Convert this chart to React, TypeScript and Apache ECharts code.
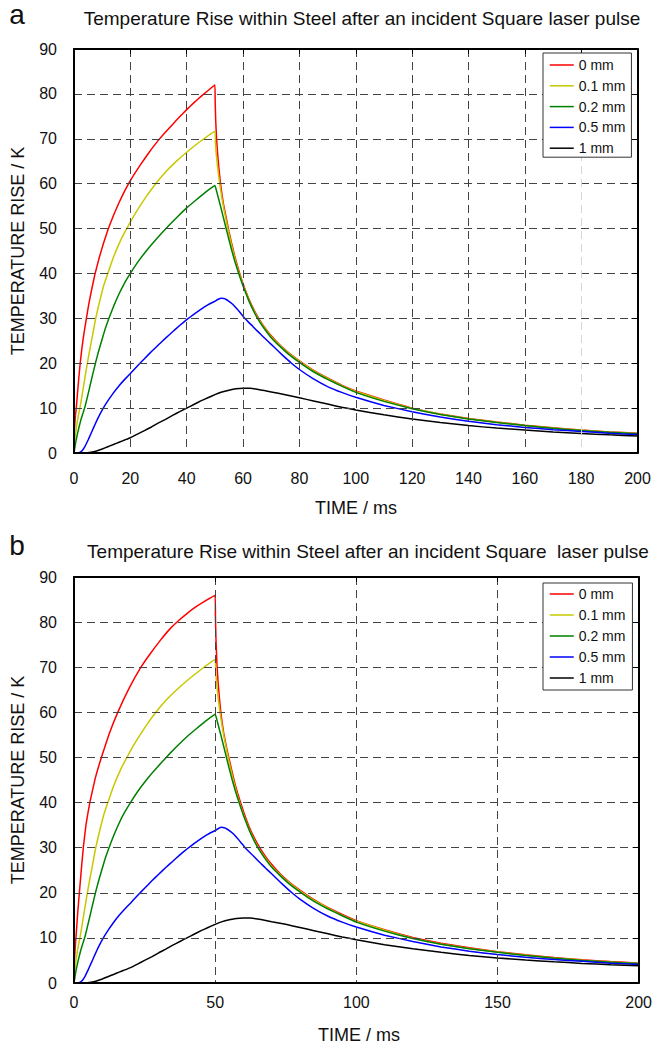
import React, { useEffect, useRef } from 'react';
import * as echarts from 'echarts';

const seriesNames = ['0 mm', '0.1 mm', '0.2 mm', '0.5 mm', '1 mm'];
const seriesColors = ['#ff0000', '#c8c800', '#008000', '#0000ff', '#000000'];

const yMin = 0;
const yMax = 90;
const yInterval = 10;
const xMin = 0;
const xMax = 200;
const xIntervalA = 20;
const xIntervalB = 50;

const titleA = 'Temperature Rise within Steel after an incident Square laser pulse';
const titleB = 'Temperature Rise within Steel after an incident Square  laser pulse';
const xName = 'TIME / ms';
const yName = 'TEMPERATURE RISE / K';

// [time ms, temperature rise K]
const redA = [
  [0, 0], [0.1, 3.5], [0.25, 6], [0.5, 8.3], [0.8, 10], [1.2, 13], [1.7, 16.7], [2.2, 20],
  [2.8, 23.3], [3.5, 26.5], [4.4, 30], [5.2, 33], [6.2, 36.2], [7.5, 40], [9, 43.6], [10.5, 46.8],
  [12.2, 50], [14, 52.9], [16, 55.8], [18, 58.4], [20, 60.7], [22.5, 63.2], [25, 65.5], [27.5, 67.7],
  [30, 69.7], [32.5, 71.5], [35, 73.2], [37.5, 74.9], [40, 76.5], [42.5, 78], [45, 79.4], [47.5, 80.7],
  [50, 82], [50.1, 78.5], [50.3, 74], [50.6, 70], [51, 66.5], [51.5, 63], [52, 60], [52.5, 57.7],
  [53, 55.6], [54, 52.5], [55, 49.3], [56, 46.6], [57, 44], [58, 41.7], [59, 39.6], [60, 37.7],
  [62, 34.4], [64, 31.7], [66, 29.5], [68, 27.7], [70, 26.1], [73, 24.1], [76, 22.4], [80, 20.5],
  [85, 18.4], [90, 16.7], [95, 15.1], [100, 13.8], [110, 11.8], [120, 10], [130, 8.7], [140, 7.7],
  [150, 6.9], [160, 6.2], [170, 5.6], [180, 5.1], [190, 4.7], [200, 4.4],
];
const redB = [
  [0, 0], [0.05, 2.5], [0.2, 5.5], [0.45, 8], [0.8, 11], [1.3, 15.5], [1.9, 20], [2.6, 25.2],
  [3.3, 30], [4.3, 35.3], [5.6, 40], [7.5, 45.3], [9.7, 50], [12.5, 55.3], [15.5, 60], [19.5, 65.3],
  [23.7, 70], [27, 73], [30.5, 75.9], [34, 78.5], [37, 80.3], [40, 81.9], [43, 83.3], [46.5, 84.7],
  [50, 85.9], [50.1, 81], [50.3, 76], [50.6, 71], [51, 67], [51.5, 63.2], [52, 60], [52.5, 57.6],
  [53, 55.5], [54, 52.3], [55, 49.5], [56, 46.8], [57, 44.2], [58, 42], [59, 40], [60, 38.1],
  [62, 34.7], [64, 32], [66, 29.8], [68, 27.9], [70, 26.3], [73, 24.2], [76, 22.5], [80, 20.6],
  [85, 18.5], [90, 16.7], [95, 15.2], [100, 13.8], [110, 11.8], [120, 10.1], [130, 8.8], [140, 7.8],
  [150, 6.95], [160, 6.25], [170, 5.65], [180, 5.15], [190, 4.75], [200, 4.4],
];
const yellow = [
  [0, 0], [0.2, 2.2], [0.5, 4], [1, 6.3], [1.5, 8.2], [2.1, 10], [2.8, 12.6], [3.6, 15.7],
  [4.6, 19.5], [5.6, 23], [6.6, 26.3], [7.7, 30], [9, 33.5], [10.5, 37.2], [12, 40], [14, 43.6],
  [16.5, 47.3], [19, 50.3], [22, 53.6], [25.5, 57], [29, 60], [32.5, 62.6], [36, 64.8], [40, 67],
  [45, 69.5], [50, 71.7], [50.2, 69], [50.5, 66.5], [51, 63.5], [51.5, 61], [52, 58.8],
  [52.5, 56.8], [53, 55], [54, 51.8], [55, 48.8], [56, 46.1], [57, 43.6], [58, 41.3], [59, 39.3],
  [60, 37.4], [62, 34.2], [64, 31.5], [66, 29.3], [68, 27.5], [70, 25.9], [73, 24], [76, 22.3],
  [80, 20.4], [85, 18.3], [90, 16.6], [95, 15], [100, 13.7], [110, 11.7], [120, 9.95], [130, 8.65],
  [140, 7.65], [150, 6.85], [160, 6.15], [170, 5.55], [180, 5.05], [190, 4.65], [200, 4.35],
];
const green = [
  [0, 0], [0.3, 1.2], [0.7, 2.7], [1.2, 4.2], [1.8, 5.8], [2.5, 7.5], [3.2, 8.9], [3.9, 10.3],
  [4.8, 12.6], [5.7, 15], [6.6, 17.4], [7.6, 20], [8.7, 22.6], [10, 25.4], [11.2, 27.9], [12.4, 30],
  [14, 32.6], [15.8, 35.2], [17.8, 37.7], [20, 40], [22.5, 42.4], [25, 44.5], [28, 46.8],
  [31, 48.9], [34, 50.9], [37, 52.8], [40, 54.6], [43, 56.2], [46.5, 58], [50, 59.6], [50.5, 58.6],
  [51, 57.4], [52, 55], [53, 52.5], [54, 50], [55, 47.5], [56, 45.1], [57, 42.9], [58, 40.9],
  [59, 39], [60, 37.2], [62, 34], [64, 31.3], [66, 29.1], [68, 27.3], [70, 25.7], [73, 23.8],
  [76, 22.1], [80, 20.2], [85, 18.1], [90, 16.4], [95, 14.9], [100, 13.5], [110, 11.5],
  [120, 9.85], [130, 8.6], [140, 7.6], [150, 6.8], [160, 6.1], [170, 5.5], [180, 5], [190, 4.6],
  [200, 4.3],
];
const blue = [
  [0, 0], [1, 0], [2, 0.1], [3, 0.6], [4, 1.6], [5, 2.9], [6, 4.3], [7, 5.7], [8, 7.1], [9, 8.4],
  [10.4, 10], [12, 11.6], [14, 13.4], [16, 15], [18, 16.4], [20, 17.7], [22.5, 19.4], [25, 21],
  [27.5, 22.6], [30, 24.1], [32.5, 25.6], [35, 27], [37.5, 28.4], [40, 29.7], [42.5, 30.9],
  [45, 32], [47.5, 33], [50, 33.8], [51, 34.2], [52.3, 34.5], [53.2, 34.4], [54, 34.2],
  [55, 33.8], [56, 33.3], [57, 32.7], [58, 32], [59.3, 31], [60.6, 30], [62, 29.1], [63.5, 28.2],
  [65, 27.2], [66.5, 26.3], [68, 25.4], [70, 24.2], [72, 23], [74, 21.8], [77.2, 20], [80, 18.6],
  [85, 16.5], [90, 14.8], [95, 13.5], [100, 12.4], [110, 10.6], [120, 9.2], [130, 8], [140, 7.05],
  [150, 6.3], [160, 5.7], [170, 5.2], [180, 4.8], [190, 4.4], [200, 4.1],
];
const black = [
  [0, 0], [4, 0], [6, 0.15], [8, 0.45], [10, 0.9], [12, 1.4], [14, 1.9], [16, 2.4], [18, 2.9],
  [20, 3.4], [22.5, 4.2], [25, 5], [27.5, 5.8], [30, 6.7], [32.5, 7.5], [35, 8.4], [37.5, 9.2],
  [40, 10], [42.5, 10.8], [45, 11.6], [47.5, 12.3], [50, 13], [52.5, 13.6], [55, 14], [57.5, 14.3],
  [60, 14.4], [62.5, 14.4], [65, 14.2], [67.5, 13.9], [70, 13.6], [75, 13], [80, 12.3], [85, 11.6],
  [90, 10.9], [95, 10.2], [100, 9.6], [110, 8.5], [120, 7.6], [130, 6.8], [140, 6.1], [150, 5.55],
  [160, 5.1], [170, 4.7], [180, 4.35], [190, 4.05], [200, 3.8],
];

const chartAData = [redA, yellow, green, blue, black];
const chartBData = [redB, yellow, green, blue, black];

const FONT = "'Liberation Sans', Arial, sans-serif";

export default function App() {
  const ref = useRef<HTMLDivElement>(null);

  useEffect(() => {
    if (!ref.current) return;
    const chart = echarts.init(ref.current, undefined, { renderer: 'svg' });

    const grids = [
      { left: 74, top: 49, width: 563.5, height: 404 },
      { left: 74, top: 577, width: 570.5, height: 406 },
    ];
    const gridColor = '#444';
    const dash = [8, 5];

    const vColorsA = Array.from({ length: 11 }, (_, i) => (i === 9 ? '#d6d6d6' : gridColor));

    const mainX = (gi: number, interval: number, margin: number, colors: any) => ({
      type: 'value', gridIndex: gi, min: xMin, max: xMax, interval, position: 'bottom',
      axisLine: { show: true, onZero: false, lineStyle: { color: '#000', width: 2 } },
      axisTick: { show: false },
      axisLabel: { show: true, margin, fontSize: 16, color: '#111', fontFamily: FONT },
      splitLine: { show: true, lineStyle: { color: colors, width: 1, type: dash } },
      z: 5,
    });
    const topX = (gi: number, interval: number) => ({
      type: 'value', gridIndex: gi, min: xMin, max: xMax, interval, position: 'top',
      axisLine: { show: true, onZero: false, lineStyle: { color: '#000', width: 2 } },
      axisTick: { show: true, inside: true, length: 5, lineStyle: { color: '#000', width: 1 } },
      axisLabel: { show: false },
      splitLine: { show: false },
      z: 5,
    });
    const mainY = (gi: number) => ({
      type: 'value', gridIndex: gi, min: yMin, max: yMax, interval: yInterval, position: 'left',
      axisLine: { show: true, onZero: false, lineStyle: { color: '#000', width: 2 } },
      axisTick: { show: false },
      axisLabel: { show: true, margin: 17, fontSize: 16, color: '#111', fontFamily: FONT },
      splitLine: { show: true, lineStyle: { color: gridColor, width: 1, type: dash } },
      z: 5,
    });
    const rightY = (gi: number) => ({
      type: 'value', gridIndex: gi, min: yMin, max: yMax, interval: yInterval, position: 'right',
      axisLine: { show: true, onZero: false, lineStyle: { color: '#000', width: 2 } },
      axisTick: { show: true, inside: true, length: 6, lineStyle: { color: '#000', width: 1 } },
      axisLabel: { show: false },
      splitLine: { show: false },
      z: 5,
    });

    const series: any[] = [];
    [chartAData, chartBData].forEach((set, gi) => {
      set.forEach((d, si) => {
        series.push({
          type: 'line',
          name: seriesNames[si],
          xAxisIndex: gi * 2,
          yAxisIndex: gi * 2,
          data: d,
          symbol: 'none',
          showSymbol: false,
          smooth: 0.1,
          lineStyle: { color: seriesColors[si], width: 1.5 },
          itemStyle: { color: seriesColors[si] },
          z: 3,
        });
      });
    });

    const legendBase = {
      orient: 'vertical',
      itemWidth: 24,
      itemHeight: 12,
      backgroundColor: '#fff',
      borderColor: '#333',
      borderWidth: 1,
      borderRadius: 0,
      selectedMode: false,
      itemStyle: { opacity: 0, borderWidth: 0 },
      lineStyle: { width: 1.5 },
      textStyle: { fontSize: 14, color: '#111', fontFamily: FONT },
      data: seriesNames,
      z: 6,
    };

    const txt = (text: string, x: number, y: number, size: number, extra: any = {}) => ({
      type: 'text',
      x, y,
      style: {
        text, fontSize: size, fontFamily: FONT, fill: '#111',
        textAlign: 'center', textVerticalAlign: 'middle',
      },
      ...extra,
    });

    chart.setOption({
      animation: false,
      backgroundColor: '#fff',
      grid: grids.map((g) => ({ ...g, containLabel: false })),
      xAxis: [
        mainX(0, xIntervalA, 17, vColorsA), topX(0, xIntervalA),
        mainX(1, xIntervalB, 11, gridColor), topX(1, xIntervalB),
      ],
      yAxis: [mainY(0), rightY(0), mainY(1), rightY(1)],
      legend: [
        { ...legendBase, left: 543, top: 53, padding: [5, 6, 2, 6], itemGap: 6.8 },
        { ...legendBase, left: 543, top: 583, padding: [4, 7, 5, 6], itemGap: 7 },
      ],
      graphic: [
        txt('a', 17, 14, 28),
        txt('b', 17, 545, 28),
        txt(titleA, 362, 18, 19),
        txt(titleB, 368, 551, 19),
        txt(xName, 356, 508, 18),
        txt(xName, 359, 1035, 18),
        txt(yName, 18, 251, 18, { rotation: Math.PI / 2 }),
        txt(yName, 18, 780, 18, { rotation: Math.PI / 2 }),
      ],
      series,
    });

    return () => chart.dispose();
  }, []);

  return (
    <div
      ref={ref}
      style={{ position: 'absolute', left: 0, top: 0, width: 655, height: 1050 }}
    />
  );
}
